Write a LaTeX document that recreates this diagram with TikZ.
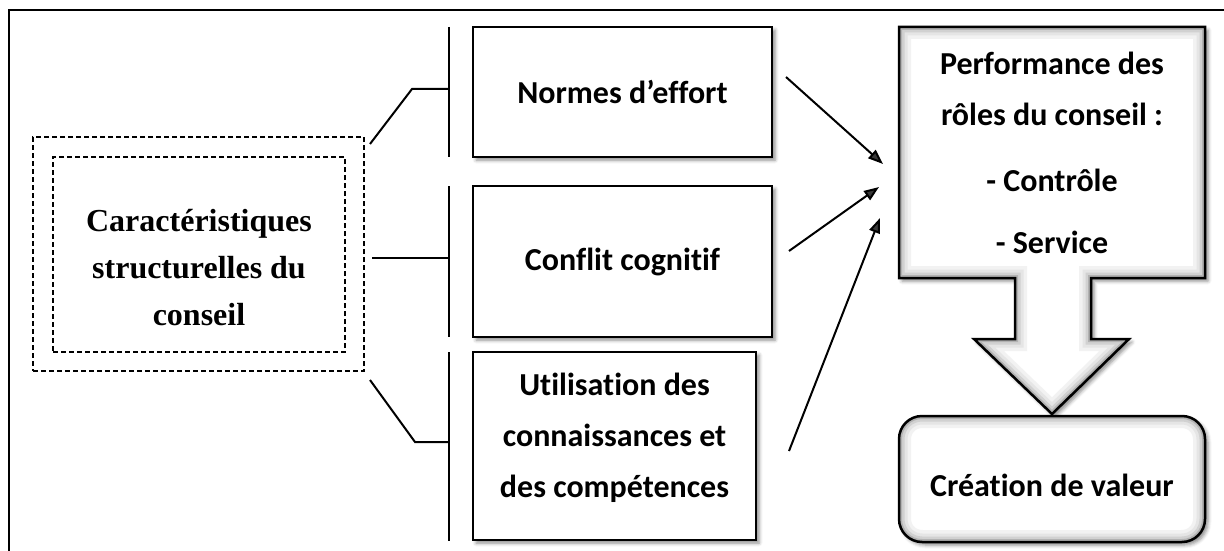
\documentclass[tikz,border=0pt]{standalone}
\usepackage{fontspec}
\setmainfont{Liberation Serif}
\newfontfamily\calfont[Ligatures={NoCommon,NoContextual}]{Carlito}
\usetikzlibrary{arrows.meta,shadows.blur}
\tikzset{
  frameline/.style={line width=2pt},
  dashbox/.style={draw, dash pattern=on 5pt off 3pt, line width=1.6pt, inner sep=0pt},
  softshadow/.style={blur shadow={shadow xshift=3pt, shadow yshift=-3pt, shadow blur radius=3.5pt, shadow opacity=45}},
  mainbox/.style={draw, line width=2.5pt, fill=white, inner sep=0pt, softshadow,
    font=\calfont\bfseries\fontsize{32}{51}\selectfont, align=center},
  caltext/.style={inner sep=0pt, font=\calfont\bfseries\fontsize{32}{51}\selectfont, align=center},
  sertext/.style={inner sep=0pt, font=\bfseries\fontsize{32}{47}\selectfont, align=center},
  barline/.style={line width=2.2pt},
  linkline/.style={line width=2pt, line join=miter},
  arr/.style={line width=2pt, -{Triangle[length=15pt,width=11pt]}},
}
\def\callpath{(899,27) -- (1205,27) -- (1205,278) -- (1091,278) -- (1091,339) -- (1129,339) -- (1052,414) -- (974,339) -- (1015,339) -- (1015,278) -- (899,278) -- cycle}
\begin{document}
\begin{tikzpicture}[x=1pt,y=-1pt]
\useasboundingbox (0,0) rectangle (1224,551);
% outer frame
\draw[frameline] (9,560) -- (9,10) -- (1230,10);

% left dashed boxes
\node (outer) [dashbox, minimum width=331pt, minimum height=234pt] at (198.5,254) {};
\node (inner) [dashbox, minimum width=292pt, minimum height=195pt] at (199,254.5) {};
\node (carac) [sertext] at (199,268) {Caractéristiques\\structurelles du\\conseil};

% middle boxes
\node (n1) [mainbox, minimum width=299pt, minimum height=130pt] at (622.5,92) {Normes d’effort};
\node (n2) [mainbox, minimum width=299pt, minimum height=151pt] at (622.5,261.5) {Conflit cognitif};
\node (n3) [mainbox, minimum width=283pt, minimum height=188pt] at (614.5,446) {};
\node (n3t) [caltext] at (614.5,437.5) {Utilisation des\\connaissances et\\des compétences};

% bars
\coordinate (b1t) at (449,27);  \coordinate (b1b) at (449,157);
\coordinate (b2t) at (449,186); \coordinate (b2b) at (449,337);
\coordinate (b3t) at (449,352); \coordinate (b3b) at (449,541);
\draw[barline] (b1t) -- (b1b);
\draw[barline] (b2t) -- (b2b);
\draw[barline] (b3t) -- (b3b);

% bracket connectors
\coordinate (c1s) at (370,144); \coordinate (c1m) at (412,89); \coordinate (c1e) at (449,89);
\coordinate (c2s) at (372,258); \coordinate (c2e) at (449,258);
\coordinate (c3s) at (370,380); \coordinate (c3m) at (415,442); \coordinate (c3e) at (449,442);
\draw[linkline] (c1s) -- (c1m) -- (c1e);
\draw[linkline] (c2s) -- (c2e);
\draw[linkline] (c3s) -- (c3m) -- (c3e);

% callout shape
\draw[line width=2.5pt, fill=white, line join=miter, softshadow,
  path picture={
    \draw[line width=24pt, black!5] \callpath;
    \draw[line width=17pt, black!10] \callpath;
    \draw[line width=11pt, black!18] \callpath;
    \draw[line width=6pt, black!30] \callpath;
  }] \callpath;
\node (perf) [caltext] at (1052,152.5) {Performance des\\rôles du conseil~:\\[15pt]- Contrôle\\[11pt]- Service};

% arrows
\coordinate (a1s) at (786,77);  \coordinate (a1e) at (883,164);
\coordinate (a2s) at (789,251); \coordinate (a2e) at (879,187);
\coordinate (a3s) at (789,451); \coordinate (a3e) at (880,218);
\draw[arr] (a1s) -- (a1e);
\draw[arr] (a2s) -- (a2e);
\draw[arr] (a3s) -- (a3e);

% value box
\node (val) [draw, line width=2.5pt, fill=white, rounded corners=23pt, inner sep=0pt,
  minimum width=306pt, minimum height=126pt, softshadow,
  path picture={
    \draw[line width=24pt, black!5, rounded corners=23pt] (path picture bounding box.north west) rectangle (path picture bounding box.south east);
    \draw[line width=17pt, black!10, rounded corners=23pt] (path picture bounding box.north west) rectangle (path picture bounding box.south east);
    \draw[line width=11pt, black!18, rounded corners=23pt] (path picture bounding box.north west) rectangle (path picture bounding box.south east);
    \draw[line width=6pt, black!30, rounded corners=23pt] (path picture bounding box.north west) rectangle (path picture bounding box.south east);
  }] at (1052,479) {};
\node (valt) [caltext] at (1052,485.5) {Création de valeur};
\end{tikzpicture}
\end{document}
